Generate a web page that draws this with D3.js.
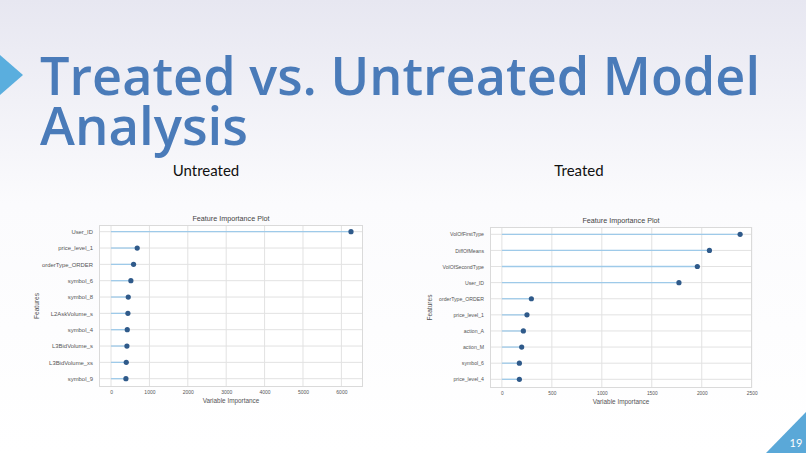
<!DOCTYPE html>
<html>
<head>
<meta charset="utf-8">
<script src="https://cdn.jsdelivr.net/npm/d3@7"></script>
<style>
  html, body { margin: 0; padding: 0; }
  body { width: 806px; height: 453px; overflow: hidden; }
</style>
</head>
<body>
<svg id="slide" width="806" height="453"></svg>
<script>
// ---------- data ----------
const untreatedFeatures = ["User_ID", "price_level_1", "orderType_ORDER", "symbol_6", "symbol_8",
  "L2AskVolume_s", "symbol_4", "L3BidVolume_s", "L3BidVolume_xs", "symbol_9"];
const untreatedValues = [6250, 682, 587, 517, 449, 440, 423, 414, 397, 388];
const untreatedTicks = [0, 1000, 2000, 3000, 4000, 5000, 6000];

const treatedFeatures = ["VolOfFirstType", "DiffOfMeans", "VolOfSecondType", "User_ID", "orderType_ORDER",
  "price_level_1", "action_A", "action_M", "symbol_6", "price_level_4"];
const treatedValues = [2384, 2077, 1956, 1772, 295, 251, 215, 198, 175, 175];
const treatedTicks = [0, 500, 1000, 1500, 2000, 2500];

const slideTitleLines = ["Treated vs. Untreated Model", "Analysis"];
const panelTitles = ["Untreated", "Treated"];
const plotTitle = "Feature Importance Plot";
const xAxisTitle = "Variable Importance";
const yAxisTitle = "Features";
const pageNumber = "19";

// ---------- slide ----------
const svg = d3.select("#slide");
const defs = svg.append("defs");
const grad = defs.append("linearGradient").attr("id", "bg").attr("x1", 0).attr("y1", 0).attr("x2", 0).attr("y2", 1);
grad.append("stop").attr("offset", "0%").attr("stop-color", "#e7e7f1");
grad.append("stop").attr("offset", "45%").attr("stop-color", "#fbfbfd");
grad.append("stop").attr("offset", "100%").attr("stop-color", "#ffffff");
svg.append("rect").attr("width", 806).attr("height", 453).attr("fill", "url(#bg)");

// left chevron
svg.append("path").attr("d", d3.line()([[0, 55], [23, 75], [0, 95]])).attr("fill", "#5aaede");

// slide title
const titleColor = "#4a7bb9";
svg.append("text").attr("x", 40).attr("y", 95)
  .attr("font-family", "'Open Sans', Lato, sans-serif").attr("font-weight", 600)
  .attr("font-size", 52).attr("fill", titleColor)
  .attr("textLength", 720).attr("lengthAdjust", "spacingAndGlyphs")
  .text(slideTitleLines[0]);
svg.append("text").attr("x", 40).attr("y", 145)
  .attr("font-family", "'Open Sans', Lato, sans-serif").attr("font-weight", 600)
  .attr("font-size", 52).attr("fill", titleColor)
  .attr("textLength", 208).attr("lengthAdjust", "spacingAndGlyphs")
  .text(slideTitleLines[1]);

// panel titles
[[206, panelTitles[0]], [579, panelTitles[1]]].forEach(([x, t]) => {
  svg.append("text").attr("x", x).attr("y", 176).attr("text-anchor", "middle")
    .attr("font-family", "Lato, 'Open Sans', sans-serif").attr("font-size", 15)
    .attr("fill", "#111").text(t);
});

// page number triangle
svg.append("path").attr("d", d3.line()([[766, 453], [806, 412], [806, 453]])).attr("fill", "#5aa8d8");
svg.append("text").attr("x", 796).attr("y", 447).attr("text-anchor", "middle")
  .attr("font-family", "Lato, sans-serif").attr("font-size", 11).attr("fill", "#fff").text(pageNumber);

// ---------- chart drawing ----------
function drawChart(opt) {
  const g = svg.append("g");
  const x = d3.scaleLinear().domain(opt.xDomain).range([opt.left, opt.right]);
  const y = d3.scalePoint().domain(opt.features).range([opt.firstY, opt.lastY]);
  const font = "'Liberation Sans', Arial, sans-serif";

  g.append("rect").attr("x", opt.left).attr("y", opt.top)
    .attr("width", opt.right - opt.left).attr("height", opt.bottom - opt.top)
    .attr("fill", "#ffffff");

  // vertical grid
  g.selectAll(".vg").data(opt.ticks).enter().append("line")
    .attr("x1", d => x(d)).attr("x2", d => x(d))
    .attr("y1", opt.top).attr("y2", opt.bottom)
    .attr("stroke", "#e2e2e2").attr("stroke-width", 1);
  // horizontal grid
  g.selectAll(".hg").data(opt.features).enter().append("line")
    .attr("x1", opt.left).attr("x2", opt.right)
    .attr("y1", d => y(d)).attr("y2", d => y(d))
    .attr("stroke", "#e2e2e2").attr("stroke-width", 1);

  // frame
  g.append("rect").attr("x", opt.left + 0.5).attr("y", opt.top + 0.5)
    .attr("width", opt.right - opt.left - 1).attr("height", opt.bottom - opt.top - 1)
    .attr("fill", "none").attr("stroke", "#dadada").attr("stroke-width", 1);

  // stems
  g.selectAll(".stem").data(opt.features).enter().append("line")
    .attr("x1", x(0)).attr("x2", (d, i) => x(opt.values[i]))
    .attr("y1", d => y(d)).attr("y2", d => y(d))
    .attr("stroke", "#9ecae9").attr("stroke-width", 1.3);
  // dots
  g.selectAll(".dot").data(opt.features).enter().append("circle")
    .attr("cx", (d, i) => x(opt.values[i])).attr("cy", d => y(d)).attr("r", 2.6)
    .attr("fill", "#2f5a8a");

  // x axis labels
  const xAxis = d3.axisBottom(x).tickValues(opt.ticks).tickFormat(d3.format("d")).tickSize(0).tickPadding(0);
  const xa = g.append("g").attr("transform", `translate(0,${opt.bottom + 3.5})`).call(xAxis);
  xa.select(".domain").remove();
  xa.selectAll("text").attr("font-family", font).attr("font-size", opt.tickFont).attr("fill", "#555");

  // y axis labels
  const yAxis = d3.axisLeft(y).tickSize(0).tickPadding(6);
  const ya = g.append("g").attr("transform", `translate(${opt.left},0)`).call(yAxis);
  ya.select(".domain").remove();
  ya.selectAll("text").attr("font-family", font).attr("font-size", opt.labelFont).attr("fill", "#555");

  // titles
  g.append("text").attr("x", (opt.left + opt.right) / 2).attr("y", opt.top - 4)
    .attr("text-anchor", "middle").attr("font-family", font).attr("font-size", 7.2)
    .attr("fill", "#444").text(plotTitle);
  g.append("text").attr("x", (opt.left + opt.right) / 2).attr("y", opt.bottom + 16)
    .attr("text-anchor", "middle").attr("font-family", font).attr("font-size", 6.4)
    .attr("fill", "#555").text(xAxisTitle);
  g.append("text").attr("transform", `translate(${opt.yLabelX},${(opt.top + opt.bottom) / 2}) rotate(-90)`)
    .attr("text-anchor", "middle").attr("font-family", font).attr("font-size", 6.6)
    .attr("fill", "#555").text(yAxisTitle);
}

drawChart({
  features: untreatedFeatures, values: untreatedValues, ticks: untreatedTicks,
  xDomain: [-313, 6563], left: 99, right: 363, top: 225, bottom: 387,
  firstY: 231.7, lastY: 378.7, yLabelX: 39, tickFont: 5, labelFont: 5.9
});

drawChart({
  features: treatedFeatures, values: treatedValues, ticks: treatedTicks,
  xDomain: [-119, 2503], left: 490, right: 752, top: 227, bottom: 388,
  firstY: 234.3, lastY: 379.3, yLabelX: 432, tickFont: 4.8, labelFont: 5.2
});
</script>
</body>
</html>
